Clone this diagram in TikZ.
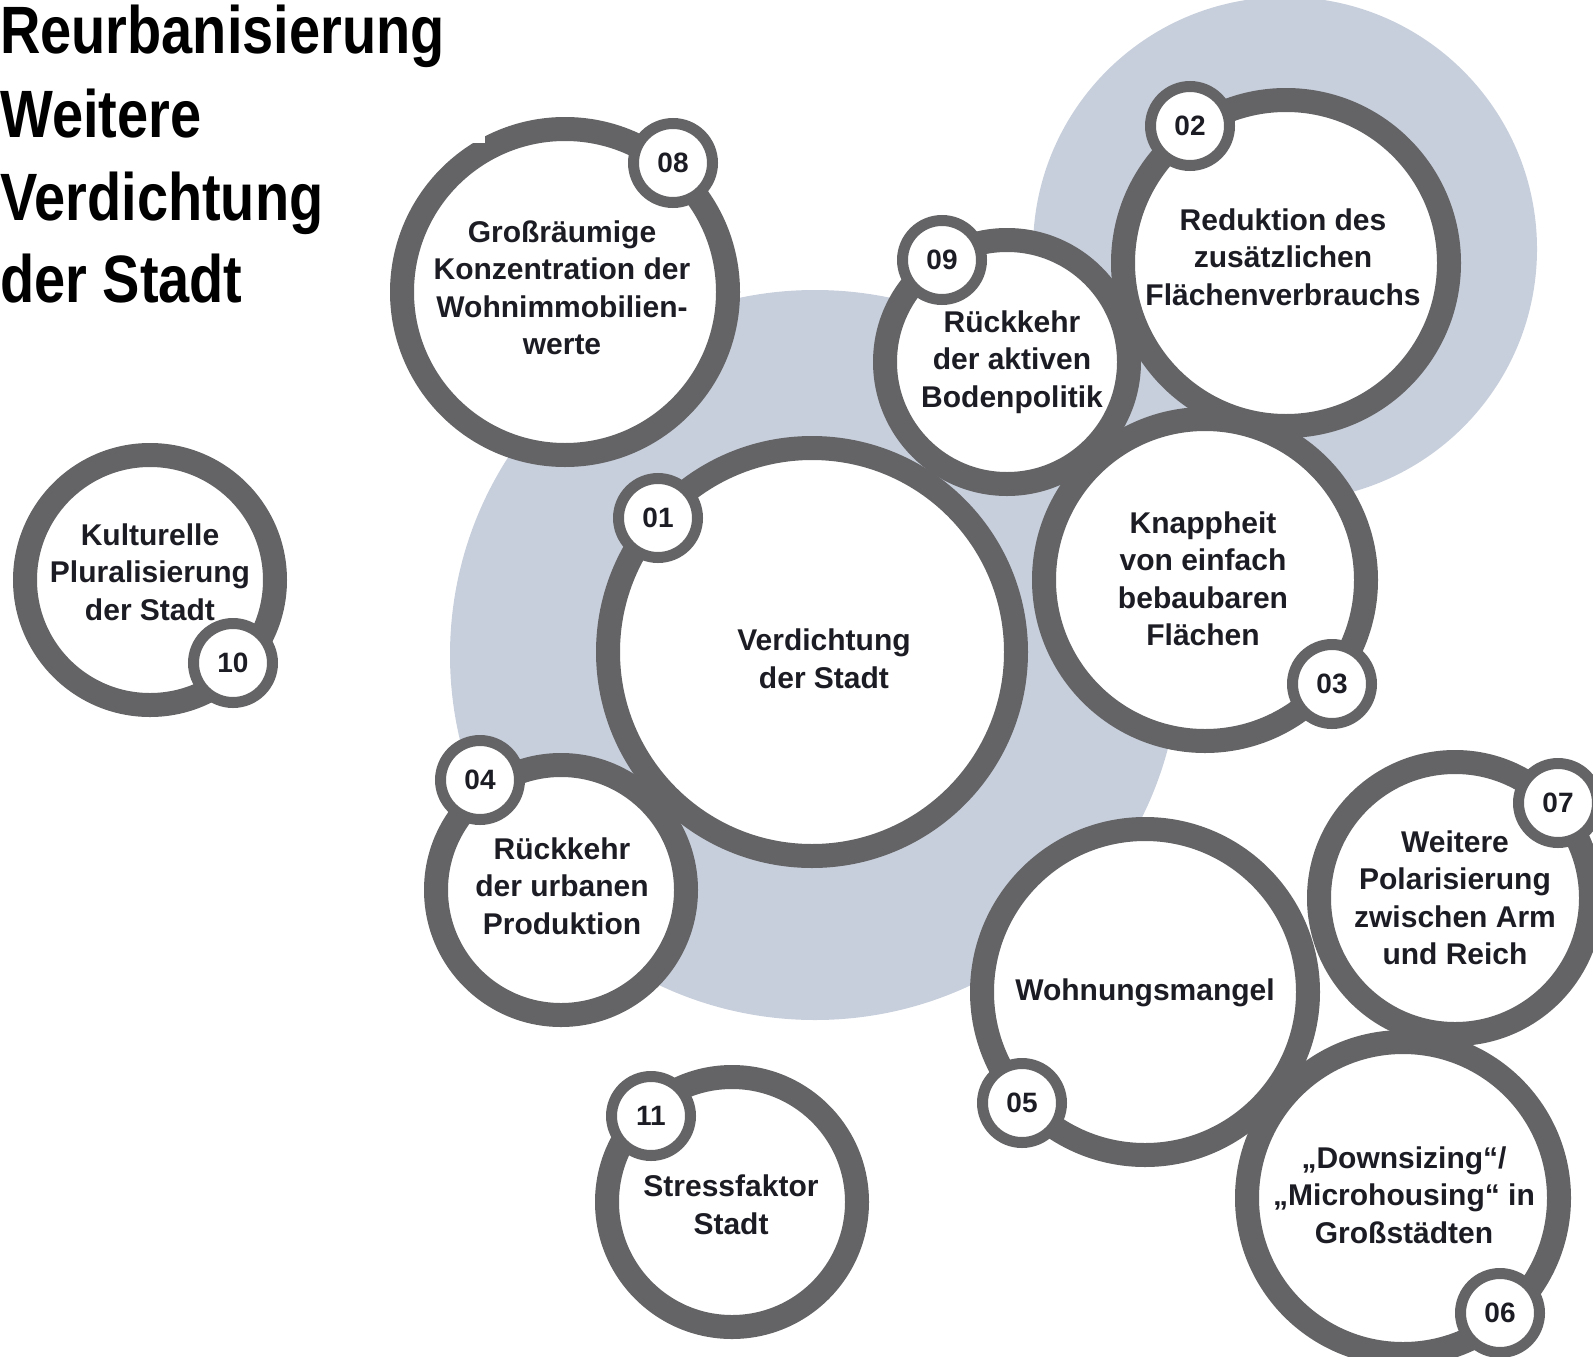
\documentclass[tikz,border=0pt]{standalone}
\usepackage{fontspec}
\setmainfont{Liberation Sans}
\newfontfamily\titlefont[FakeStretch=0.835]{Liberation Sans}
\definecolor{ringgray}{HTML}{646466}
\definecolor{bgblue}{HTML}{C8CFDC}
\definecolor{txt}{HTML}{1C1C24}
\begin{document}
\begin{tikzpicture}[x=1pt,y=-1pt,
  bubble/.style={circle, draw=ringgray, line width=24pt, fill=white, inner sep=0pt, minimum size=2*#1pt-24pt},
  badge/.style={circle, draw=ringgray, line width=11pt, fill=white, inner sep=0pt, minimum size=79pt, text=txt, font=\bfseries\fontsize{28}{30}\selectfont},
  lbl/.style={align=center, text=txt, inner sep=0pt, font=\bfseries\fontsize{30}{37.5}\selectfont},
  ttl/.style={anchor=base west, inner sep=0pt, text=black, font=\titlefont\bfseries\fontsize{67}{80}\selectfont}]
\useasboundingbox (0,0) rectangle (1593,1357);
\clip (0,0) rectangle (1593,1357);
% background discs
\fill[bgblue] (815,655) circle (365);
\fill[bgblue] (1285,249) circle (252);
% main circles
\node[bubble=175] (c08) at (565,292) {};
\node[bubble=134] (c09) at (1007,362) {};
\node[bubble=175] (c02) at (1286,263) {};
\node[bubble=216] (c01) at (812,652) {};
\node[bubble=173] (c03) at (1205,580) {};
\node[bubble=137] (c04) at (561,890) {};
\node[bubble=137] (c10) at (150,580) {};
\node[bubble=175] (c05) at (1145,992) {};
\node[bubble=148] (c07) at (1455,898) {};
\node[bubble=168] (c06) at (1403,1198) {};
\node[bubble=137] (c11) at (732,1202) {};
% badges
\node[badge] (b08) at (673,163) {08};
\node[badge] (b09) at (942,260) {09};
\node[badge] (b02) at (1190,126) {02};
\node[badge] (b01) at (658,518) {01};
\node[badge] (b03) at (1332,684) {03};
\node[badge] (b04) at (480,780) {04};
\node[badge] (b10) at (233,663) {10};
\node[badge] (b05) at (1022,1103) {05};
\node[badge] (b07) at (1558,803) {07};
\node[badge] (b06) at (1500,1313) {06};
\node[badge] (b11) at (651,1116) {11};
% labels
\node[lbl] (t08) at (562,288) {Großräumige\\Konzentration der\\Wohnimmobilien-\\werte};
\node[lbl] (t09) at (1012,362) {Rückkehr\\der aktiven\\Bodenpolitik};
\node[lbl] (t02) at (1283,257) {Reduktion des\\zusätzlichen\\Flächenverbrauchs};
\node[lbl] (t01) at (824,659) {Verdichtung\\der Stadt};
\node[lbl] (t03) at (1203,579) {Knappheit\\von einfach\\bebaubaren\\Flächen};
\node[lbl] (t04) at (562,886) {Rückkehr\\der urbanen\\Produktion};
\node[lbl] (t10) at (150,572) {Kulturelle\\Pluralisierung\\der Stadt};
\node[lbl] (t05) at (1145,993) {Wohnungsmangel};
\node[lbl] (t07) at (1455,898) {Weitere\\Polarisierung\\zwischen Arm\\und Reich};
\node[lbl] (t06) at (1404,1195) {„Downsizing“/\\„Microhousing“ in\\Großstädten};
\node[lbl] (t11) at (731,1205) {Stressfaktor\\Stadt};
% title box
\fill[white] (0,0) rectangle (485,143);
\node[ttl] (ti1) at (0,53) {Reurbanisierung};
\node[ttl] (ti2) at (0,137) {Weitere};
\node[ttl] (ti3) at (0,220) {Verdichtung};
\node[ttl] (ti4) at (0,302) {der Stadt};
\end{tikzpicture}
\end{document}
